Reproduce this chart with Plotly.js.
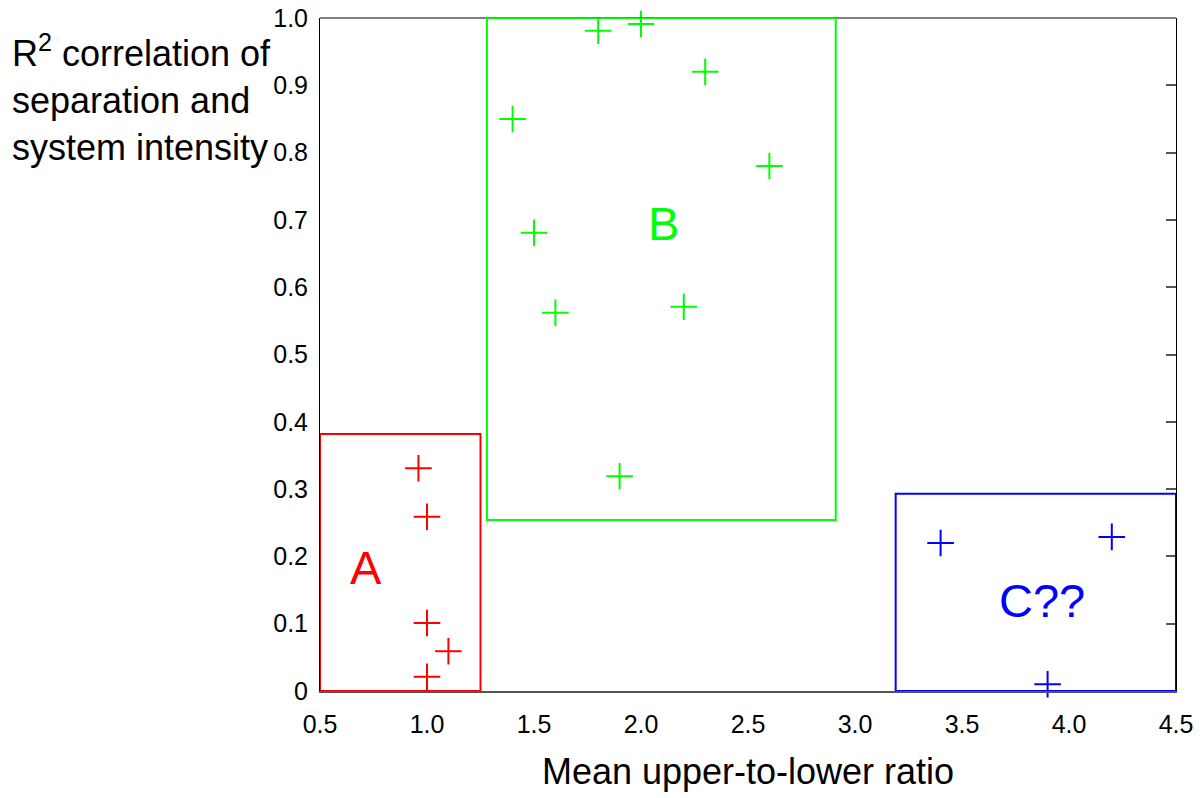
<!DOCTYPE html>
<html>
<head>
<meta charset="utf-8">
<script src="https://cdn.plot.ly/plotly-3.0.1.min.js"></script>
<style>html,body{margin:0;padding:0;background:#fff}#chart{width:1203px;height:798px}</style>
</head>
<body>
<div id="chart"></div>
<script>
// Group A (red)
const groupAx = [0.96, 1.0, 1.0, 1.1, 1.0];
const groupAy = [0.331, 0.259, 0.101, 0.059, 0.021];
// Group B (green)
const groupBx = [1.40, 1.80, 2.00, 2.30, 2.60, 1.50, 1.60, 2.20, 1.90];
const groupBy = [0.850, 0.981, 0.991, 0.920, 0.780, 0.681, 0.562, 0.571, 0.319];
// Group C (blue)
const groupCx = [3.40, 4.20, 3.90];
const groupCy = [0.220, 0.229, 0.010];

// Group bounding boxes [x0, x1, y0, y1]
const boxA = [0.5, 1.25, 0.0, 0.382];
const boxB = [1.28, 2.91, 0.254, 1.0];
const boxC = [3.19, 4.5, 0.0, 0.293];

// Group labels [text, x, y]
const labelA = ["A", 0.715, 0.183];
const labelB = ["B", 2.103, 0.694];
const labelC = ["C??", 3.874, 0.135];

const xTickVals = [0.5, 1.0, 1.5, 2.0, 2.5, 3.0, 3.5, 4.0, 4.5];
const xTickText = ["0.5", "1.0", "1.5", "2.0", "2.5", "3.0", "3.5", "4.0", "4.5"];
const yTickVals = [0, 0.1, 0.2, 0.3, 0.4, 0.5, 0.6, 0.7, 0.8, 0.9, 1.0];
const yTickText = ["0", "0.1", "0.2", "0.3", "0.4", "0.5", "0.6", "0.7", "0.8", "0.9", "1.0"];

const RED = "#ff0000", GREEN = "#00ff00", BLUE = "#0000ff";
const FONT = "Liberation Sans, Arial, sans-serif";

function pts(x, y, c) {
  return {
    type: "scatter", mode: "markers", x: x, y: y, cliponaxis: false,
    marker: {symbol: "cross-thin-open", size: 19, color: c, line: {color: c, width: 2}},
    showlegend: false, hoverinfo: "x+y"
  };
}
function box(b, c) {
  return {type: "rect", xref: "x", yref: "y", x0: b[0], x1: b[1], y0: b[2], y1: b[3],
          line: {color: c, width: 2}, fillcolor: "rgba(0,0,0,0)", layer: "above"};
}
function lab(l, c) {
  return {text: l[0], x: l[1], y: l[2], xref: "x", yref: "y", showarrow: false,
          font: {family: FONT, size: 47, color: c}, xanchor: "center", yanchor: "middle"};
}

const data = [
  // invisible carrier so the right-hand tick axis is drawn
  {type: "scatter", mode: "markers", x: groupCx, y: groupCy, yaxis: "y2",
   marker: {opacity: 0, size: 1}, showlegend: false, hoverinfo: "skip"},
  pts(groupAx, groupAy, RED),
  pts(groupBx, groupBy, GREEN),
  pts(groupCx, groupCy, BLUE)
];

const layout = {
  width: 1203, height: 798,
  margin: {l: 320, r: 27, t: 18, b: 107, pad: 0},
  paper_bgcolor: "#fff", plot_bgcolor: "#fff",
  font: {family: FONT, color: "#000"},
  showlegend: false,
  xaxis: {
    range: [0.5, 4.5], tickmode: "array", tickvals: xTickVals, ticktext: xTickText,
    showgrid: false, zeroline: false, showline: true, linecolor: "#555", linewidth: 2,
    ticks: "", tickfont: {family: FONT, size: 25, color: "#000"}, ticklabelstandoff: 10,
    title: {text: "Mean upper-to-lower ratio", font: {family: FONT, size: 36, color: "#000"}, standoff: 22}
  },
  yaxis: {
    range: [0, 1.0], tickmode: "array", tickvals: yTickVals, ticktext: yTickText,
    showgrid: false, zeroline: false, showline: true, linecolor: "#000", linewidth: 1,
    ticks: "", tickfont: {family: FONT, size: 25, color: "#000"}, ticklabelstandoff: 6
  },
  yaxis2: {
    overlaying: "y", side: "right", range: [0, 1.0], tickmode: "array", tickvals: yTickVals,
    showticklabels: false, showgrid: false, zeroline: false, showline: true,
    linecolor: "#000", linewidth: 1, ticks: "inside", ticklen: 10, tickwidth: 2, tickcolor: "#555"
  },
  shapes: [
    {type: "line", xref: "paper", yref: "paper", x0: 0, x1: 1, y0: 1, y1: 1, line: {color: "#000", width: 1}},
    box(boxA, RED), box(boxB, GREEN), box(boxC, BLUE)
  ],
  annotations: [
    lab(labelA, RED), lab(labelB, GREEN), lab(labelC, BLUE),
    {text: "R<sup>2</sup> correlation of<br>separation and<br>system intensity",
     xref: "paper", yref: "paper", x: -0.362, y: 0.881, xanchor: "left", yanchor: "middle",
     align: "left", showarrow: false, font: {family: FONT, size: 36, color: "#000"}}
  ]
};

Plotly.newPlot("chart", data, layout, {displayModeBar: false, staticPlot: true});
</script>
</body>
</html>
